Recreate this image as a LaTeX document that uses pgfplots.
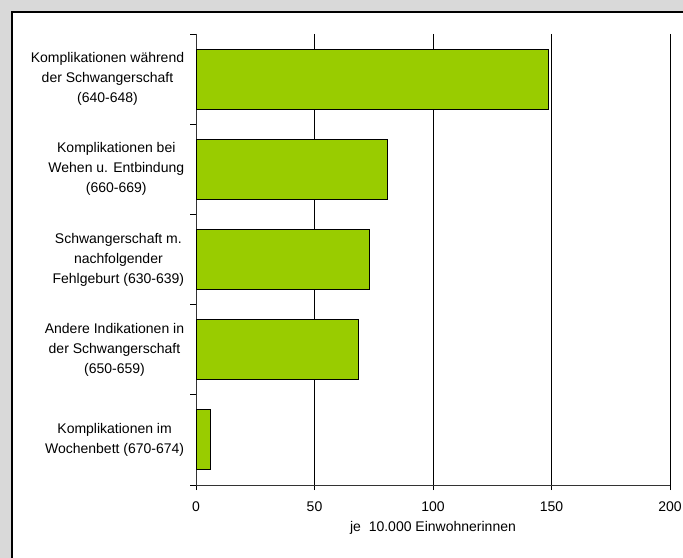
\documentclass[border=0pt]{standalone}
\usepackage{fontspec}
\setmainfont{Liberation Sans}
\usepackage{pgfplots}
\pgfplotsset{compat=1.18}
\definecolor{barg}{HTML}{99CC00}
\definecolor{bgg}{HTML}{D9D9D9}
\begin{document}
\fontsize{14bp}{20bp}\selectfont
\begin{tikzpicture}[x=1bp,y=1bp]
\useasboundingbox (0,0) rectangle (683,558);
\fill[bgg] (0,0) rectangle (683,558);
\fill[white] (12,0) rectangle (683,546);
\draw[black, line width=2bp] (12,0) -- (12,546) -- (683,546);
\begin{axis}[
  at={(196bp,73bp)}, anchor=south west, scale only axis,
  width=474bp, height=451bp,
  xmin=0, xmax=200, ymin=0.5, ymax=5.5, y dir=reverse,
  axis x line*=bottom, axis y line*=left,
  axis line style={-, black!80, line width=0.8bp},
  xtick={0,50,100,150,200},
  xmajorgrids, grid style={black, line width=0.8bp},
  tick align=center, major tick length=10bp,
  tick style={black, line width=0.8bp},
  ytick={1,2,3,4,5},
  ytick style={draw=none},
  yticklabels={{Komplikationen während\\der Schwangerschaft\\(640-648)},
               {Komplikationen bei\\Wehen u. Entbindung\\(660-669)},
               {Schwangerschaft m.\\nachfolgender\\Fehlgeburt (630-639)},
               {Andere Indikationen in\\der Schwangerschaft\\(650-659)},
               {Komplikationen im\\Wochenbett (670-674)}},
  y tick label style={align=center, font=\fontsize{14bp}{20bp}\selectfont, xshift=3bp},
  x tick label style={font=\fontsize{14bp}{17bp}\selectfont, yshift=-7bp},
  /pgf/number format/assume math mode=true,
  xlabel={je\ \ 10.000 Einwohnerinnen},
  xlabel style={at={(axis description cs:0.5,0)}, anchor=base, yshift=-46bp, font=\fontsize{14bp}{17bp}\selectfont},
  xbar, bar width=60bp,
]
\addplot[fill=barg, draw=black, line width=0.9bp] coordinates {(148.5,1) (80.7,2) (73.2,3) (68.4,4) (6,5)};
\end{axis}
\begin{axis}[
  at={(196bp,73bp)}, anchor=south west, scale only axis,
  width=474bp, height=451bp,
  xmin=0, xmax=200, ymin=0.5, ymax=5.5, y dir=reverse,
  axis x line=none, axis y line*=left,
  axis line style={draw=none},
  ytick={0.5,1.5,2.5,3.5,4.5,5.5},
  yticklabels={,,,,,},
  tick align=outside, major tick length=6bp,
  tick style={black, line width=0.8bp},
]
\addplot[draw=none] coordinates {(0,1)};
\end{axis}
\end{tikzpicture}
\end{document}
